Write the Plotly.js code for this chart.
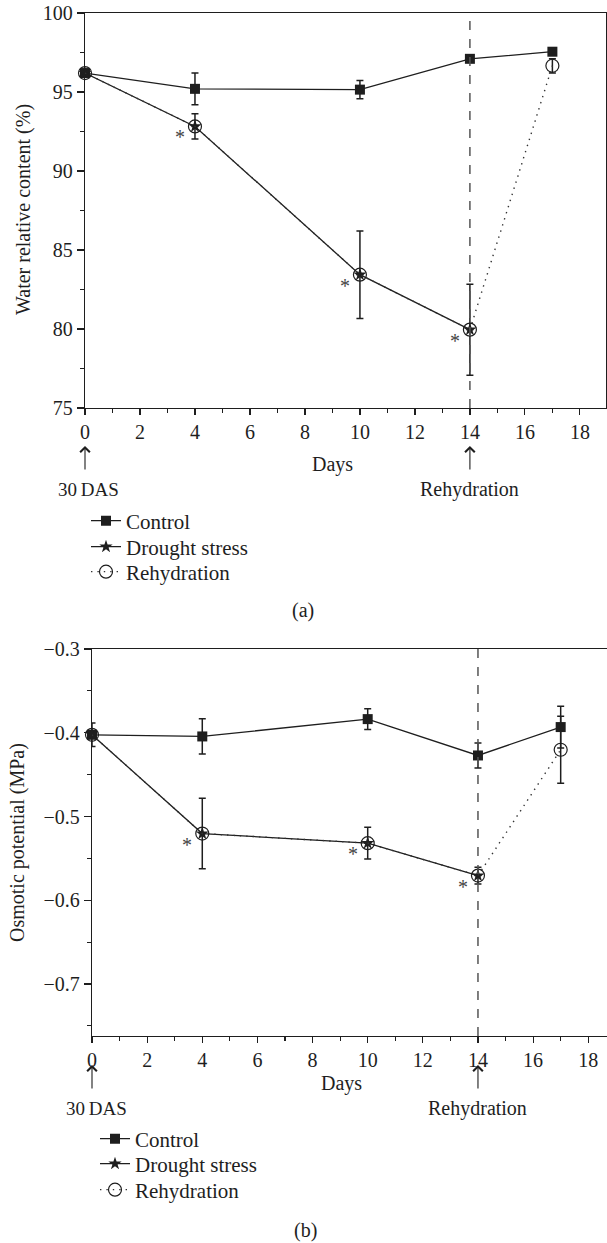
<!DOCTYPE html>
<html><head><meta charset="utf-8">
<script src="https://cdn.plot.ly/plotly-3.0.1.min.js"></script>
<style>html,body{margin:0;padding:0;background:#fff}#chart{width:607px;height:1243px}</style>
</head><body><div id="chart"></div><script>
// ---------- data ----------
const days = [0, 4, 10, 14, 17];
const droughtDays = [0, 4, 10, 14];
const seriesNames = ['Control', 'Drought stress', 'Rehydration'];
const xTickVals = [0, 2, 4, 6, 8, 10, 12, 14, 16, 18];

// (a) Water relative content (%)
const wrcControl = [96.2, 95.2, 95.15, 97.1, 97.55];
const wrcControlErr = [0, 1.0, 0.57, 0, 0];
const wrcDrought = [96.2, 92.82, 83.44, 79.96];
const wrcDroughtErr = [0, 0.8, 2.77, 2.88];
const wrcRehydration = [96.2, 92.82, 83.44, 79.96, 96.66];
const wrcRehydrationErr = [0, 0, 0, 0, 0.45];

// (b) Osmotic potential (MPa)
const opControl = [-0.4024, -0.4044, -0.3837, -0.4271, -0.3932];
const opControlErr = [0.014, 0.021, 0.0125, 0.015, 0.025];
const opDrought = [-0.4024, -0.5203, -0.5318, -0.5705];
const opDroughtErr = [0, 0.042, 0.019, 0.01];
const opRehydration = [-0.4024, -0.5203, -0.5318, -0.5705, -0.4203];
const opRehydrationErr = [0, 0, 0, 0, 0.04];

// ---------- helpers ----------
const W = 607, H = 1243;
const px = v => v / W;
const py = v => 1 - v / H;
const FONT = '"Liberation Serif", "Times New Roman", serif';
const INK = '#1e1e1e';

function errY(arr) {
  return {type: 'data', array: arr, visible: true, color: INK, thickness: 1.5, width: 3.5};
}
function mk(xa, ya, legendIds, ctl, ctlErr, dr, drErr, rh, rhErr) {
  return [
    {x: days, y: ctl, error_y: errY(ctlErr), xaxis: xa, yaxis: ya, name: seriesNames[0],
     legend: legendIds[0], mode: 'lines+markers', cliponaxis: false,
     line: {color: INK, width: 1.3}, marker: {symbol: 'square', size: 10, color: INK}},
    {x: droughtDays, y: dr, error_y: errY(drErr), xaxis: xa, yaxis: ya, name: seriesNames[1],
     legend: legendIds[1], mode: 'lines+markers', cliponaxis: false,
     line: {color: INK, width: 1.3}, marker: {symbol: 'star', size: 10, color: INK}},
    {x: days, y: rh, error_y: errY(rhErr), xaxis: xa, yaxis: ya, name: seriesNames[2],
     legend: legendIds[2], mode: 'lines+markers', cliponaxis: false,
     line: {color: '#333', width: 1.4, dash: '1.4px,5px'},
     marker: {symbol: 'circle-open', size: 13, color: INK, line: {width: 1.2, color: INK}}}
  ];
}

const traces = [
  ...mk('x', 'y', ['legend', 'legend2', 'legend3'], wrcControl, wrcControlErr, wrcDrought, wrcDroughtErr, wrcRehydration, wrcRehydrationErr),
  ...mk('x2', 'y2', ['legend4', 'legend5', 'legend6'], opControl, opControlErr, opDrought, opDroughtErr, opRehydration, opRehydrationErr)
];

function xAxis(domain, range) {
  return {domain: domain, range: range, tickvals: xTickVals, ticks: 'outside', ticklen: 6, tickwidth: 1.2,
    tickcolor: INK, showline: true, linecolor: INK, linewidth: 1.3, mirror: true, showgrid: false,
    zeroline: false, automargin: false, tickfont: {family: FONT, size: 20, color: INK},
    minor: {dtick: 1, ticks: 'outside', ticklen: 4, tickwidth: 1.1, tickcolor: INK, showgrid: false}};
}
function yAxis(domain, range, dtick, tick0, minorDtick, mirror) {
  return {domain: domain, range: range, dtick: dtick, tick0: tick0, ticks: 'outside', ticklen: 7, tickwidth: 1.2,
    tickcolor: INK, showline: true, linecolor: INK, linewidth: 1.3, mirror: mirror, showgrid: false,
    zeroline: false, automargin: false, tickfont: {family: FONT, size: 20, color: INK},
    minor: {dtick: minorDtick, tick0: tick0, ticks: 'outside', ticklen: 4, tickwidth: 1.1, tickcolor: INK, showgrid: false}};
}

const annotations = [];
function txt(x, xref, y, text, size, extra) {
  annotations.push(Object.assign({x: x, xref: xref, y: y, yref: 'paper', text: text, showarrow: false,
    font: {family: FONT, size: size, color: INK}, xanchor: 'center', yanchor: 'middle'}, extra || {}));
}
// asterisks next to drought points
function stars(xa, ya, dr) {
  for (let i = 1; i < droughtDays.length; i++) {
    annotations.push({x: droughtDays[i], y: dr[i], xref: xa, yref: ya, text: '*', showarrow: false,
      xshift: -15, yshift: -11, font: {family: FONT, size: 20, color: '#444'}});
  }
}
stars('x', 'y', wrcDrought);
stars('x2', 'y2', opDrought);

function arrow(xa, day, tipY) {
  annotations.push({x: day, xref: xa, y: py(tipY), yref: 'paper', text: '', showarrow: true,
    ax: 0, ay: 25, arrowhead: 4, arrowsize: 1.7, arrowwidth: 1.1, arrowcolor: INK});
}
// panel (a) texts
txt(px(23), 'paper', py(210), 'Water relative content (%)', 20, {textangle: -90});
txt(px(333), 'paper', py(464), 'Days', 20);
arrow('x', 0, 446); arrow('x', 14, 446);
txt(0, 'x', py(490), '30\u2009DAS', 19, {xshift: 3});
txt(14, 'x', py(490), 'Rehydration', 20);
txt(px(303), 'paper', py(610), '(a)', 20);
// panel (b) texts
txt(px(17), 'paper', py(843), 'Osmotic potential (MPa)', 20, {textangle: -90});
txt(px(341), 'paper', py(1083), 'Days', 20);
arrow('x2', 0, 1065); arrow('x2', 14, 1065);
txt(0, 'x2', py(1108), '30\u2009DAS', 19, {xshift: 4});
txt(14, 'x2', py(1108), 'Rehydration', 20);
txt(px(305), 'paper', py(1230), '(b)', 20);

const shapes = [
  {type: 'line', xref: 'x', yref: 'y domain', x0: 14, x1: 14, y0: 0, y1: 1,
   line: {color: '#555', width: 1.5, dash: 'dash'}},
  {type: 'line', xref: 'x2', yref: 'y2 domain', x0: 14, x1: 14, y0: 0, y1: 1,
   line: {color: '#555', width: 1.5, dash: 'dash'}}
];

function leg(x, y) {
  return {x: px(x), y: py(y), xanchor: 'left', yanchor: 'middle', bgcolor: 'rgba(0,0,0,0)', borderwidth: 0,
    font: {family: FONT, size: 21, color: INK}, tracegroupgap: 0, itemclick: false};
}

const layout = {
  width: W, height: H, margin: {l: 0, r: 0, t: 0, b: 0},
  paper_bgcolor: '#fff', plot_bgcolor: '#fff', showlegend: true,
  font: {family: FONT, color: INK},
  xaxis: xAxis([px(85), px(606)], [0, 18.95]),
  yaxis: yAxis([py(408), py(13)], [75, 100], 5, 75, 2.5, true),
  xaxis2: Object.assign(xAxis([px(92), 1], [0, 18.68]), {anchor: 'y2'}),
  yaxis2: Object.assign(yAxis([py(1036), py(649)], [-0.762, -0.3], 0.1, -0.3, 0.05, false), {anchor: 'x2'}),
  legend: leg(86, 521), legend2: leg(86, 547), legend3: leg(86, 572),
  legend4: leg(95, 1139), legend5: leg(95, 1164), legend6: leg(95, 1190),
  annotations: annotations, shapes: shapes
};

Plotly.newPlot('chart', traces, layout, {displayModeBar: false, staticPlot: true});
</script></body></html>
